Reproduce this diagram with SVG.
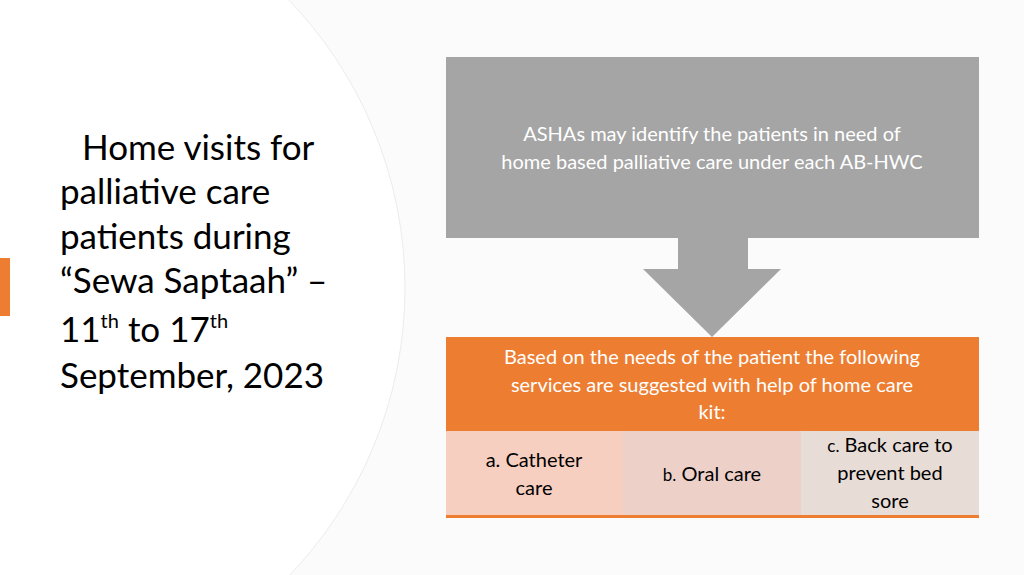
<svg xmlns="http://www.w3.org/2000/svg" width="1024" height="575" viewBox="0 0 1024 575">
<style>
text{font-family:Lato,"Open Sans","Liberation Sans",sans-serif}
.t{font-size:35px;fill:#000}
.w{font-size:20px;fill:#fff;text-anchor:middle}
.k{font-size:20px;fill:#000;text-anchor:middle}
</style>
<rect width="1024" height="575" fill="#fbfbfb"/>
<circle cx="-10" cy="288" r="415" fill="#fff" stroke="#ececec" stroke-width="1"/>
<rect x="0" y="258" width="10" height="58" fill="#ed7d31"/>
<g id="title">
<text class="t" x="82" y="160">Home visits for</text>
<text class="t" x="60" y="204">palliative care</text>
<text class="t" x="60" y="249">patients during</text>
<text class="t" x="60" y="293">“Sewa Saptaah” –</text>
<text class="t" x="60" y="342">11<tspan font-size="20" dy="-14">th</tspan><tspan dy="14"> to 17</tspan><tspan font-size="20" dy="-14">th</tspan></text>
<text class="t" x="60" y="388">September, 2023</text>
</g>
<g id="connectors">
<polygon points="678,238 748,238 748,269 781,269 712,337 643,269 678,269" fill="#a5a5a5"/>
</g>
<g id="asha">
<rect x="446" y="57" width="533" height="181" fill="#a5a5a5"/>
<text class="w" x="712" y="141">ASHAs may identify the patients in need of</text>
<text class="w" x="712" y="169">home based palliative care under each AB-HWC</text>
</g>
<g id="services">
<rect x="446" y="337" width="533" height="94" fill="#ed7d31"/>
<text class="w" x="712" y="364">Based on the needs of the patient the following</text>
<text class="w" x="712" y="392">services are suggested with help of home care</text>
<text class="w" x="712" y="419">kit:</text>
</g>
<g id="cellA">
<rect x="446" y="431" width="177" height="85" fill="#f7cfc0"/>
<text class="k" x="534" y="467">a. Catheter</text>
<text class="k" x="534" y="495">care</text>
</g>
<g id="cellB">
<rect x="623" y="431" width="178" height="85" fill="#edd0c8"/>
<text class="k" x="712" y="481"><tspan font-size="17">b.</tspan> Oral care</text>
</g>
<g id="cellC">
<rect x="801" y="431" width="178" height="85" fill="#e8dcd6"/>
<text class="k" x="890" y="452"><tspan font-size="17">c.</tspan> Back care to</text>
<text class="k" x="890" y="480">prevent bed</text>
<text class="k" x="890" y="508">sore</text>
</g>
<rect x="446" y="515" width="533" height="3" fill="#ed7d31"/>
</svg>
